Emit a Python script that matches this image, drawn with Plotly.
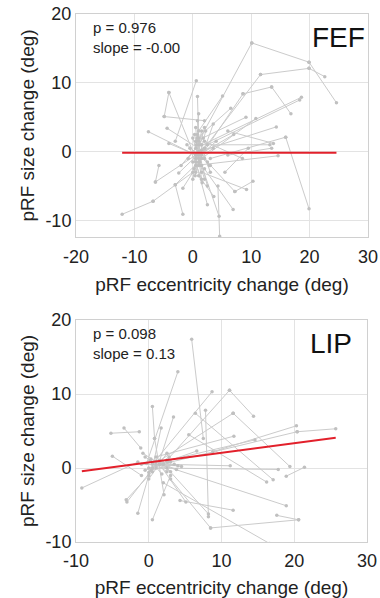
import plotly.graph_objects as go

# ---------------- data ----------------
# FEF segments: start (x0,y0) -> end (x1,y1)
fef_x0 = [1.0, 10.1, 19.9, 2.0, 11.6, 19.9, 1.5, 8.6, 13.5, 0.5, 2.5, 0.8, 1.0, 3.0, 15.9, 1.5, 0.5, 2.0, 1.5, 7.2,
          2.5, -4.1, -4.1, -4.9, 0.6, 0.8, -7.6, -4.4, -4.1, -5.8, -6.4, -12.1, -6.8, -1.7, -3.0, -2.4, 4.5, 2.5, 3.6, 4.6,
          5.1, 9.1, 10.8, 6.0, -1.7, 0.5, 0.0, 1.0, 2.0, 0.3, 1.2, -1.0, 4.0, 8.5, 6.0, -2.0, 5.5,
          0.8, 1.6, 0.2, 2.2, 1.0, -0.5, 3.0, 0.6, 1.8, 7.0]
fef_y0 = [1.5, 15.8, 13.0, 0.5, 11.2, 12.1, -0.5, 8.4, 9.4, 0.5, 1.0, 2.0, 0.0, -1.0, 2.1, 1.0, -2.0, -2.5, -3.0, -5.8,
          -1.5, 8.6, 8.6, 5.1, 10.3, 8.0, 2.9, 3.4, 1.2, -2.0, -4.4, -9.1, -7.2, -9.1, -4.8, -3.1, -9.4, -7.7, -6.5, -12.3,
          8.1, 5.0, 4.8, 3.0, -5.3, 3.5, -4.0, 5.5, -4.0, 2.5, -1.5, 1.0, 1.5, -1.0, -0.5, -2.0, -3.0,
          4.5, -4.5, -2.5, 3.0, -1.0, 0.5, -3.0, 1.0, 2.0, 2.5]
fef_x1 = [10.1, 19.9, 24.6, 11.6, 19.9, 22.6, 8.6, 13.5, 16.8, 18.6, 18.3, 6.5, 14.3, 15.9, 19.9, 13.2, 14.6, 6.9, 9.2, 10.3,
          7.2, -4.9, 0.5, 2.0, -3.0, 1.0, 0.5, 1.5, 2.0, -6.4, 0.5, -6.8, 0.0, -3.0, 1.0, 2.0, 1.5, 0.5, 1.0, 4.3,
          1.0, 0.5, 1.5, 13.8, 1.5, 1.0, 1.5, 0.5, 0.0, 2.5, 3.5, 3.0, 0.0, 2.0, 13.5, 1.0, 9.5,
          1.4, 0.6, 2.0, 0.4, 3.5, 1.5, 0.8, 2.8, -0.8, 1.0]
fef_y1 = [15.8, 13.0, 7.1, 11.2, 12.1, 10.9, 8.4, 9.4, 5.5, 7.9, 7.5, 6.3, 3.6, 2.1, -8.3, 1.0, -0.6, -8.4, -5.5, -4.3,
          -5.8, 5.1, -1.0, 4.5, 1.5, 2.0, -0.5, 0.2, -1.0, -4.4, -0.5, -7.2, -3.0, -4.8, -1.5, 0.5, -2.0, -1.5, -3.5, -5.0,
          3.0, 1.5, -1.0, 1.2, -1.0, -2.0, 3.0, -3.0, 2.0, -5.0, 4.0, -2.0, -1.5, 1.5, 0.5, 1.0, 0.5,
          -2.0, 1.5, 3.5, -3.5, 0.5, -4.0, 2.5, -2.0, -1.0, -0.5]

# LIP segments
lip_x0 = [5.9, 4.0, 8.7, 11.1, 2.0, 11.6, 1.5, 8.8, 3.0, 20.4, 21.4, 1.0, 6.4, 5.5, 1.5, 17.6, 8.5, 2.0, 4.3, 7.8,
          3.0, 0.5, -1.5, -3.0, -3.1, -9.2, -5.0, -5.2, -3.4, 0.5, 0.8, 1.7, 3.4, 14.6, 11.7, 11.2, 5.1, 8.2, 6.6, -0.8,
          0.0, -1.0, 2.5, 3.5, 0.3, 1.8, -0.5, 2.8, 4.5]
lip_y0 = [17.4, 13.0, 10.3, 10.5, 0.5, 7.4, 1.0, 2.2, 0.8, 4.9, 0.1, 0.0, 7.4, 4.5, 0.5, -6.4, -8.1, -2.0, -4.4, 7.8,
          -1.5, -7.0, -6.1, -4.6, -4.3, -2.7, 1.6, 4.7, 5.4, 8.3, 4.0, 5.4, 6.9, 3.8, 4.3, 0.3, -4.6, -6.2, 2.3, 2.0,
          -1.5, 0.5, -0.5, 0.5, 1.2, -0.8, -0.3, 1.5, 0.2]
lip_x1 = [7.5, -0.3, 0.5, 14.4, 11.1, 19.4, 11.6, 20.3, 20.4, 25.7, 18.9, 17.8, 17.1, 16.2, 18.9, 20.6, 20.6, 16.6, 11.6, 8.2,
          8.5, 3.0, 0.0, 1.0, 0.5, -1.5, -1.0, -1.3, -1.1, 0.8, 2.1, 0.5, 1.5, 2.5, 1.0, 2.0, 1.5, 2.5, 0.0, 3.0,
          2.5, 4.0, -0.5, 0.3, 3.8, 0.2, 2.6, 0.0, 1.0]
lip_y1 = [4.0, 0.6, 0.5, 7.0, 10.5, 0.2, 7.4, 5.7, 4.9, 5.3, -1.1, -0.2, -1.6, -1.9, -5.1, -7.0, -7.0, -10.2, -5.7, -6.6,
          -8.1, -1.0, -1.0, 0.5, -0.5, 0.8, -1.0, 4.9, 2.7, 4.0, -3.6, 0.0, 1.0, 1.0, 1.5, 0.5, 0.5, 0.0, 0.0, -0.5,
          2.0, 0.3, 1.5, -0.3, -0.2, 1.0, 0.8, -0.6, 0.9]

# regression fits
fef_fit = {"slope": -0.00, "intercept": -0.15, "xmin": -12.1, "xmax": 24.6, "p": "0.976", "slope_txt": "-0.00"}
lip_fit = {"slope": 0.13, "intercept": 0.75, "xmin": -9.2, "xmax": 25.7, "p": "0.098", "slope_txt": "0.13"}

panel_names = ["FEF", "LIP"]
x_title = "pRF eccentricity change (deg)"
y_title = "pRF size change (deg)"
fef_xticks = [-20, -10, 0, 10, 20, 30]
lip_xticks = [-10, 0, 10, 20, 30]
y_ticks = [-10, 0, 10, 20]

# ---------------- figure ----------------
FONT = "Arial, 'Liberation Sans', sans-serif"
GRAY = "#cbcbcb"
RED = "#e2202b"


def seg_xy(x0, y0, x1, y1):
    xs, ys = [], []
    for a, b, c, d in zip(x0, y0, x1, y1):
        xs += [a, c, None]
        ys += [b, d, None]
    return xs, ys


fig = go.Figure()

panels = [
    (fef_x0, fef_y0, fef_x1, fef_y1, fef_fit, "x", "y"),
    (lip_x0, lip_y0, lip_x1, lip_y1, lip_fit, "x2", "y2"),
]
for x0, y0, x1, y1, fit, xa, ya in panels:
    xs, ys = seg_xy(x0, y0, x1, y1)
    fig.add_trace(go.Scatter(x=xs, y=ys, mode="lines+markers", xaxis=xa, yaxis=ya,
                             line=dict(color=GRAY, width=1),
                             marker=dict(color="#c0c0c0", size=3.5),
                             connectgaps=False, showlegend=False, hoverinfo="skip"))
    fx = [fit["xmin"], fit["xmax"]]
    fy = [fit["intercept"] + fit["slope"] * v for v in fx]
    fig.add_trace(go.Scatter(x=fx, y=fy, mode="lines", xaxis=xa, yaxis=ya,
                             line=dict(color=RED, width=2), showlegend=False))

W, H = 380, 598
def px_x(p):
    return p / W
def px_y(p):
    return 1 - p / H

axis_common = dict(
    showline=True, linecolor="#d0d0d0", linewidth=1, mirror=True,
    showgrid=True, gridcolor="#e3e3e3", gridwidth=1,
    zeroline=False, ticks="", automargin=False,
    tickfont=dict(family=FONT, size=18, color="#222"),
    title_font=dict(family=FONT, size=19, color="#222"),
)

def lbl(v):
    return [str(t) for t in v]

fig.update_layout(
    width=W, height=H,
    margin=dict(l=0, r=0, t=0, b=0, autoexpand=False),
    paper_bgcolor="white", plot_bgcolor="white",
    showlegend=False,
    xaxis=dict(domain=[px_x(76), px_x(368)], range=[-20, 30], tickvals=fef_xticks, ticktext=lbl(fef_xticks),
               ticklabelstandoff=3, anchor="y", title=dict(text=x_title, standoff=12), **axis_common),
    yaxis=dict(domain=[px_y(237), px_y(14)], range=[-12.4, 20], tickvals=y_ticks, ticktext=lbl(y_ticks),
               anchor="x", title=dict(text=y_title, standoff=5), **axis_common),
    xaxis2=dict(domain=[px_x(76), px_x(367)], range=[-10, 30], tickvals=lip_xticks, ticktext=lbl(lip_xticks),
                ticklabelstandoff=2, anchor="y2", title=dict(text=x_title, standoff=11), **axis_common),
    yaxis2=dict(domain=[px_y(542), px_y(320)], range=[-10, 20], tickvals=y_ticks, ticktext=lbl(y_ticks),
                anchor="x2", title=dict(text=y_title, standoff=5), **axis_common),
)

ann = []
for (fit, name, xref, yref) in [(fef_fit, panel_names[0], "x domain", "y domain"),
                                (lip_fit, panel_names[1], "x2 domain", "y2 domain")]:
    ann.append(dict(text="p = " + fit["p"] + "<br>slope = " + fit["slope_txt"],
                    xref=xref, yref=yref, x=0.05, y=0.985, xanchor="left", yanchor="top",
                    align="left", showarrow=False,
                    font=dict(family=FONT, size=15, color="#222")))
for (name, xref, yref, xr) in [(panel_names[0], "x domain", "y domain", 0.995),
                               (panel_names[1], "x2 domain", "y2 domain", 0.955)]:
    ann.append(dict(text=name, xref=xref, yref=yref, x=xr, y=0.975, xanchor="right", yanchor="top",
                    showarrow=False, font=dict(family=FONT, size=28, color="#111")))
fig.update_layout(annotations=ann)

fig.write_html("out.html")
